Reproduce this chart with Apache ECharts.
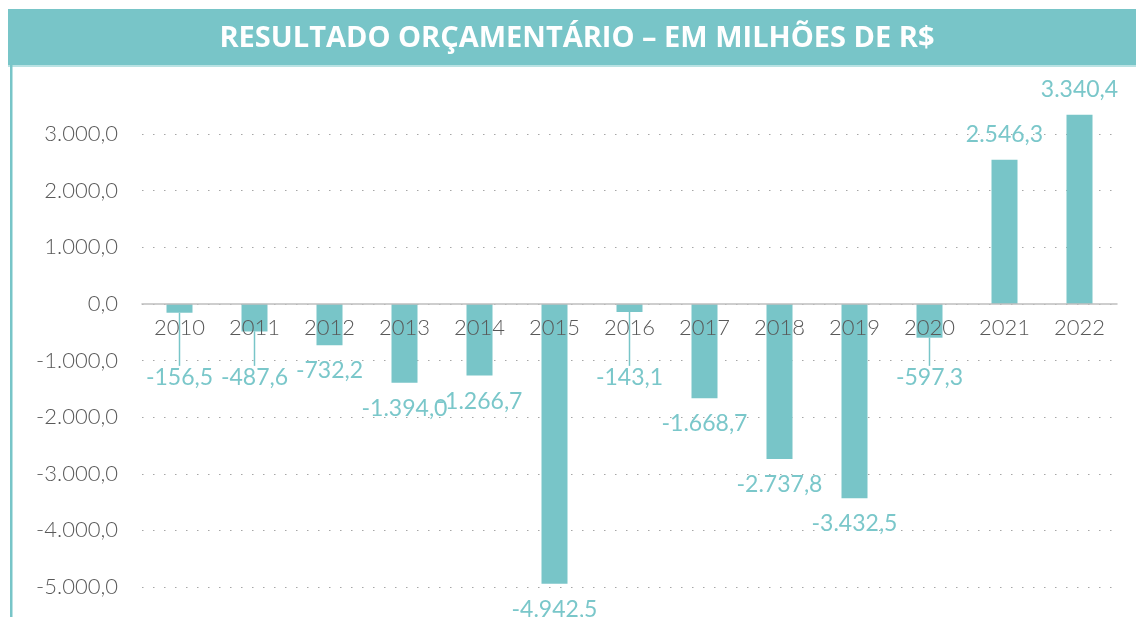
<!DOCTYPE html>
<html>
<head>
<meta charset="utf-8">
<script src="https://cdn.jsdelivr.net/npm/echarts@6/dist/echarts.min.js"></script>
<style>
html,body{margin:0;padding:0;background:#fff;}
#chart{width:1136px;height:617px;}
</style>
</head>
<body>
<div id="chart"></div>
<script>
const titleText = 'RESULTADO ORÇAMENTÁRIO – EM MILHÕES DE R$';
const categories = ['2010','2011','2012','2013','2014','2015','2016','2017','2018','2019','2020','2021','2022'];
const resultado = [-156.5,-487.6,-732.2,-1394.0,-1266.7,-4942.5,-143.1,-1668.7,-2737.8,-3432.5,-597.3,2546.3,3340.4];
const yTicks = {min:-5000, max:3000, interval:1000};

const TEAL = '#78C5C8';
const LABEL_TEAL = '#7AC7CA';
const AXIS_TXT = '#595959';

function fmt(v, dec){
  const neg = v < 0;
  const s = Math.abs(v).toFixed(dec);
  let [i, d] = s.split('.');
  i = i.replace(/\B(?=(\d{3})+(?!\d))/g, '.');
  return (neg ? '-' : '') + i + (d !== undefined ? ',' + d : '');
}

const SMALL = 650; // labels of bars this short are pushed below the axis labels with a leader line

const GRID_TOP = 134, GRID_H = 453;
// distance from grid bottom up to the zero line, so the category axis sits on zero
const zeroOffset = GRID_H * (0 - yTicks.min) / (yTicks.max - yTicks.min);

const chart = echarts.init(document.getElementById('chart'), null, {renderer:'canvas'});
chart.setOption({
  animation:false,
  backgroundColor:'#ffffff',
  graphic:[
    {type:'rect', shape:{x:8, y:9, width:1140, height:56}, style:{fill:TEAL}, z:0},
    {type:'rect', shape:{x:8, y:65, width:1140, height:2}, style:{fill:'#B9E2E3'}, z:0},
    {type:'rect', shape:{x:10, y:65, width:2.5, height:560}, style:{fill:TEAL}, z:0},
    {type:'text', x:577, y:39, style:{text:titleText, fill:'#ffffff', font:'700 29px "Open Sans"', textAlign:'center', textVerticalAlign:'middle'}, z:1}
  ],
  grid:{left:142, right:19, top:GRID_TOP, height:GRID_H, containLabel:false, outerBoundsMode:'none'},
  xAxis:{
    type:'category', data:categories, z:5,
    offset:-zeroOffset,
    axisLine:{onZero:false, lineStyle:{color:'#BFBFBF', width:1.5}},
    axisTick:{show:false},
    axisLabel:{color:AXIS_TXT, fontFamily:'Lato', fontWeight:300, fontSize:22, margin:13}
  },
  yAxis:{
    type:'value', min:yTicks.min, max:yTicks.max, interval:yTicks.interval,
    axisLine:{show:false}, axisTick:{show:false},
    axisLabel:{color:AXIS_TXT, fontFamily:'Lato', fontWeight:300, fontSize:22, margin:24, formatter:v=>fmt(v,1)},
    splitLine:{lineStyle:{color:'#A6A6A6', width:1.2, type:[1.5,9.5]}}
  },
  series:[{
    type:'bar', clip:false, barWidth:26, z:2,
    itemStyle:{color:TEAL},
    data:resultado.map(v=>({
      value:v,
      label:{position: v<0 ? 'bottom' : 'top'},
      labelLine:{show: Math.abs(v) < SMALL}
    })),
    label:{show:true, color:LABEL_TEAL, fontFamily:'Lato', fontWeight:400, fontSize:23, distance:14,
      formatter:p=>fmt(p.value,1)},
    labelLine:{lineStyle:{color:TEAL, width:1.5}},
    labelLayout:function(params){
      const v = resultado[params.dataIndex];
      if (v < 0 && Math.abs(v) < SMALL){
        const target = params.rect.y + 62;
        return {dy: target - params.labelRect.y};
      }
      return {};
    }
  }]
});
</script>
</body>
</html>
